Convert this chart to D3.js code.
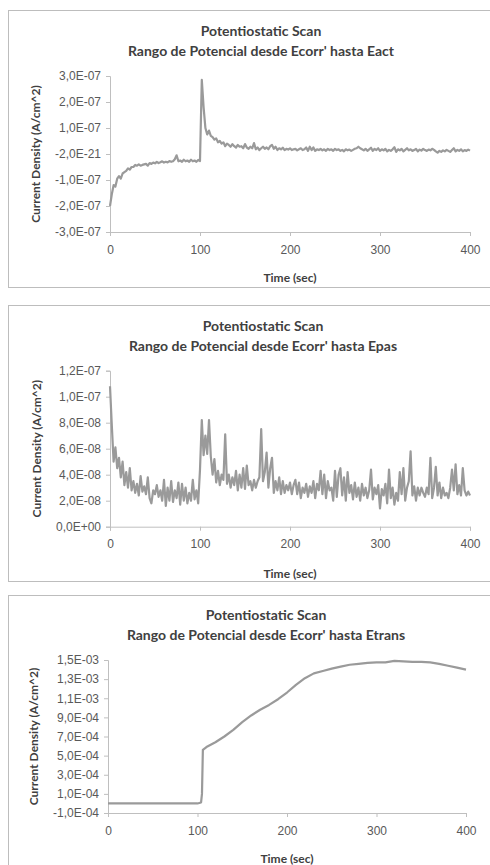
<!DOCTYPE html>
<html lang="en">
<head>
<meta charset="UTF-8">
<title>Potentiostatic Scan</title>
<script src="https://d3js.org/d3.v7.min.js"></script>
<style>
    body { margin: 0; background: #fff; }
    svg { display: block; font-family: Lato, "Open Sans", sans-serif; }
    .tick text { fill: #595959; font-size: 12px; }
    .domain, .tick line { stroke: #bfbfbf; }
</style>
</head>
<body>
<script>
// Eact scan: current density in units of 1E-07, sampled every 2 s
const eactValues = [
    -2.0, -1.55, -1.2, -1.25, -0.95, -0.85, -0.95, -0.75, -0.7, -0.65,
    -0.55, -0.6, -0.5, -0.5, -0.42, -0.45, -0.4, -0.45, -0.42, -0.4,
    -0.38, -0.45, -0.35, -0.38, -0.33, -0.36, -0.3, -0.35, -0.32, -0.28,
    -0.33, -0.3, -0.32, -0.27, -0.3, -0.28, -0.2, -0.05, -0.28, -0.25,
    -0.3, -0.22, -0.28, -0.25, -0.3, -0.22, -0.28, -0.25, -0.3, -0.23,
    -0.27, 2.85, 1.8, 1.0, 0.75, 0.9, 0.7, 0.65, 0.55, 0.6,
    0.45, 0.5, 0.4, 0.45, 0.3, 0.4, 0.35, 0.28, 0.38, 0.3,
    0.25, 0.35, 0.28, 0.3, 0.22, 0.38, 0.25, 0.2, 0.28, 0.22,
    0.42, 0.18, 0.25, 0.15, 0.22, 0.28, 0.2, 0.25, 0.18, 0.3,
    0.35, 0.2, 0.28, 0.15, 0.22, 0.18, 0.24, 0.15, 0.2, 0.17,
    0.22, 0.15, 0.18, 0.2, 0.14, 0.18, 0.22, 0.15, 0.18, 0.25,
    0.12, 0.28, 0.15, 0.25, 0.12, 0.18, 0.15, 0.2, 0.14, 0.18,
    0.12, 0.2, 0.15, 0.18, 0.12, 0.2, 0.15, 0.18, 0.12, 0.16,
    0.1, 0.18, 0.14, 0.17, 0.12, 0.16, 0.2, 0.22, 0.28, 0.22,
    0.18, 0.14, 0.2, 0.12, 0.18, 0.24, 0.12, 0.2, 0.15, 0.22,
    0.12, 0.18, 0.14, 0.2, 0.1, 0.16, 0.12, 0.18, 0.26, 0.08,
    0.18, 0.14, 0.2, 0.1, 0.16, 0.22, 0.14, 0.18, 0.12, 0.15,
    0.2, 0.1, 0.17, 0.13, 0.2, 0.15, 0.12, 0.17, 0.14, 0.2,
    0.16, 0.1, 0.05, 0.12, 0.08, 0.14, 0.1, 0.16, 0.12, 0.08,
    0.15, 0.22, 0.1, 0.16, 0.12, 0.18, 0.1, 0.15, 0.12, 0.17,
    0.13
];

// Epas scan: current density in units of 1E-08, sampled every 2 s
const epasValues = [
    10.8, 7.8, 5.0, 6.1, 4.5, 5.3, 3.8, 5.0, 3.2, 4.2,
    3.0, 4.5, 2.8, 3.5, 2.6, 3.3, 2.4, 3.9, 2.7, 3.1,
    2.5, 3.8, 2.2, 1.8, 2.8, 2.5, 3.2, 2.3, 2.8, 2.0,
    3.6, 1.6, 3.0, 2.0, 3.5, 1.9, 2.8, 2.2, 3.4, 1.7,
    3.3, 2.0, 3.0, 1.8, 2.6, 2.0, 3.6, 2.1, 2.8, 1.8,
    4.4, 8.2, 5.5, 7.0, 5.6, 8.2, 5.4, 4.0, 5.2, 3.4,
    4.3, 3.2, 4.0, 3.6, 7.1, 3.3, 4.0, 3.0, 3.8, 3.2,
    4.3, 2.8, 4.0, 3.0, 4.5, 2.9, 4.7, 3.2, 3.5, 2.8,
    3.6, 3.0, 3.5, 3.8, 7.5, 3.5, 4.2, 5.7, 3.0, 4.5,
    5.3, 2.6, 3.5, 2.8, 3.8, 2.5, 3.5, 2.6, 3.2, 2.8,
    3.4, 2.5, 3.2, 3.6, 2.5, 3.4, 2.2, 3.0, 2.6, 3.3,
    2.3, 3.1, 2.6, 3.5, 2.2, 3.3, 2.8, 4.3, 2.5, 4.0,
    2.2, 3.5, 2.8, 3.0, 2.0, 4.3, 2.3, 4.0, 4.5, 2.4,
    3.8, 2.0, 4.2, 2.6, 3.2, 2.1, 3.4, 2.3, 3.0, 2.0,
    3.3, 2.4, 3.0, 2.2, 2.8, 4.4, 2.1, 3.0, 2.5, 3.2,
    1.4, 2.9, 2.4, 3.3, 1.8, 4.4, 2.2, 3.0, 1.7, 2.6,
    2.0, 4.2, 2.5, 4.5, 2.0, 3.0, 3.5, 5.8, 2.4, 3.1,
    2.0, 3.0, 2.4, 3.0, 2.6, 2.3, 3.0, 2.5, 5.3, 2.2,
    3.0, 4.6, 2.4, 3.4, 2.2, 3.0, 2.4, 2.6, 2.2, 3.0,
    4.4, 2.8, 4.8, 2.5, 3.2, 2.4, 4.5, 2.8, 2.4, 2.7,
    2.4
];

// Etrans scan: time (s) and current density in units of 1E-04
const etransTimes = [0, 20, 40, 60, 80, 100, 104, 105, 106, 110, 120, 130, 140, 150, 160, 170, 180, 190, 200,
    210, 220, 230, 240, 250, 260, 270, 280, 290, 300, 310, 320, 330, 340, 350, 360, 370, 380, 390, 400];
const etransValues = [0, 0, 0, 0, 0, 0, 0.1, 1.0, 5.6, 5.9, 6.4, 7.0, 7.7, 8.5, 9.2, 9.8, 10.3, 10.9, 11.6,
    12.4, 13.1, 13.6, 13.85, 14.1, 14.3, 14.5, 14.6, 14.7, 14.75, 14.75, 14.9, 14.85, 14.8, 14.8, 14.75, 14.6, 14.4, 14.2, 14.0];

const xTicks = [0, 100, 200, 300, 400];

const eactTicks = [-3e-7, -2e-7, -1e-7, 0, 1e-7, 2e-7, 3e-7];
const eactTickLabels = ["-3,0E-07", "-2,0E-07", "-1,0E-07", "-2,0E-21", "1,0E-07", "2,0E-07", "3,0E-07"];
const epasTicks = [0, 2e-8, 4e-8, 6e-8, 8e-8, 1e-7, 1.2e-7];
const epasTickLabels = ["0,0E+00", "2,0E-08", "4,0E-08", "6,0E-08", "8,0E-08", "1,0E-07", "1,2E-07"];
const etransTicks = [-1e-4, 1e-4, 3e-4, 5e-4, 7e-4, 9e-4, 1.1e-3, 1.3e-3, 1.5e-3];
const etransTickLabels = ["-1,0E-04", "1,0E-04", "3,0E-04", "5,0E-04", "7,0E-04", "9,0E-04", "1,1E-03", "1,3E-03", "1,5E-03"];

const svg = d3.select("body").append("svg")
    .attr("width", 490)
    .attr("height", 865);

function drawChart(c) {
    const g = svg.append("g");

    // outer chart frame, runs off the right side of the page
    g.append("rect")
        .attr("x", 8.5).attr("y", c.boxTop + 0.5)
        .attr("width", 540).attr("height", c.boxBottom - c.boxTop)
        .attr("fill", "#fff")
        .attr("stroke", "#bdbdbd");

    g.append("text")
        .attr("x", c.titleX).attr("y", c.titleY)
        .attr("text-anchor", "middle")
        .attr("dominant-baseline", "central")
        .attr("font-size", 14).attr("font-weight", "bold").attr("fill", "#404040")
        .text("Potentiostatic Scan");
    g.append("text")
        .attr("x", c.titleX).attr("y", c.titleY + 20)
        .attr("text-anchor", "middle")
        .attr("dominant-baseline", "central")
        .attr("font-size", 14).attr("font-weight", "bold").attr("fill", "#404040")
        .text(c.subtitle);

    const x = d3.scaleLinear().domain([0, 400]).range([c.left, c.right]);
    const y = d3.scaleLinear().domain(c.yDomain).range([c.bottom, c.top]);

    g.append("g")
        .attr("transform", `translate(0,${c.bottom})`)
        .call(d3.axisBottom(x).tickValues(xTicks).tickSize(4).tickPadding(9).tickFormat(d3.format("d")));

    g.append("g")
        .attr("transform", `translate(${c.left},0)`)
        .call(d3.axisLeft(y).tickValues(c.yTicks).tickSize(4).tickPadding(5)
            .tickFormat((d, i) => c.yLabels[i]));

    g.append("text")
        .attr("x", (c.left + c.right) / 2).attr("y", c.xTitleY)
        .attr("text-anchor", "middle")
        .attr("dominant-baseline", "central")
        .attr("font-size", 12).attr("font-weight", "bold").attr("fill", "#404040")
        .text("Time (sec)");

    g.append("text")
        .attr("transform", `translate(${c.yTitleX},${(c.top + c.bottom) / 2}) rotate(-90)`)
        .attr("text-anchor", "middle")
        .attr("dominant-baseline", "central")
        .attr("font-size", 12).attr("font-weight", "bold").attr("fill", "#404040")
        .text("Current Density (A/cm^2)");

    const line = d3.line()
        .x(d => x(d[0]))
        .y(d => y(d[1]));

    g.append("path")
        .datum(c.points)
        .attr("d", line)
        .attr("fill", "none")
        .attr("stroke", "#9a9a9a")
        .attr("stroke-width", 2.2)
        .attr("stroke-linejoin", "round");
}

drawChart({
    boxTop: 10, boxBottom: 287,
    titleX: 261, titleY: 30,
    subtitle: "Rango de Potencial desde Ecorr' hasta Eact",
    left: 110, right: 470, top: 76, bottom: 232,
    xTitleY: 277, yTitleX: 35,
    yDomain: [-3e-7, 3e-7], yTicks: eactTicks, yLabels: eactTickLabels,
    points: eactValues.map((v, i) => [i * 2, v * 1e-7])
});

drawChart({
    boxTop: 305, boxBottom: 581,
    titleX: 263, titleY: 325,
    subtitle: "Rango de Potencial desde Ecorr' hasta Epas",
    left: 110, right: 470, top: 370.7, bottom: 526.7,
    xTitleY: 573, yTitleX: 36,
    yDomain: [0, 1.2e-7], yTicks: epasTicks, yLabels: epasTickLabels,
    points: epasValues.map((v, i) => [i * 2, v * 1e-8])
});

drawChart({
    boxTop: 595, boxBottom: 880,
    titleX: 266, titleY: 614,
    subtitle: "Rango de Potencial desde Ecorr' hasta Etrans",
    left: 108, right: 466, top: 660, bottom: 813,
    xTitleY: 858, yTitleX: 33,
    yDomain: [-1e-4, 1.5e-3], yTicks: etransTicks, yLabels: etransTickLabels,
    points: etransTimes.map((t, i) => [t, etransValues[i] * 1e-4])
});
</script>
</body>
</html>
